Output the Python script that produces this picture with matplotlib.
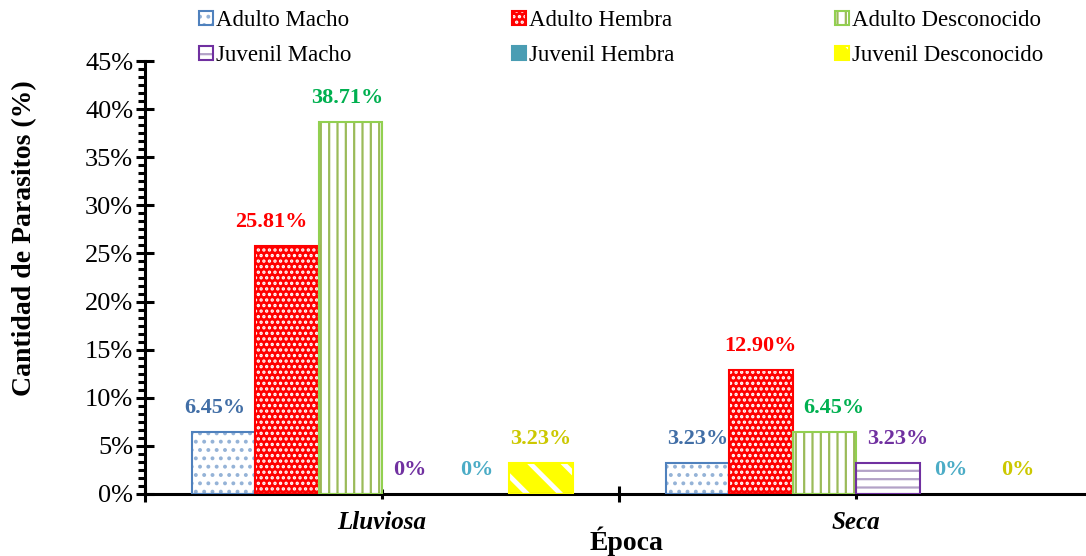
import numpy as np
import matplotlib
matplotlib.use("Agg")
import matplotlib.pyplot as plt
from matplotlib.patches import Patch
from matplotlib.ticker import MultipleLocator, AutoMinorLocator, FixedLocator

plt.rcParams['font.family'] = ['Liberation Serif', 'DejaVu Serif']
plt.rcParams['hatch.linewidth'] = 1.6

# ----- data ----- #
epocas = ['Lluviosa', 'Seca']
series = ['Adulto Macho', 'Adulto Hembra', 'Adulto Desconocido',
          'Juvenil Macho', 'Juvenil Hembra', 'Juvenil Desconocido']
adulto_macho = [6.45, 3.23]
adulto_hembra = [25.81, 12.90]
adulto_desconocido = [38.71, 6.45]
juvenil_macho = [0, 3.23]
juvenil_hembra = [0, 0]
juvenil_desconocido = [3.23, 0]
valores = [adulto_macho, adulto_hembra, adulto_desconocido,
           juvenil_macho, juvenil_hembra, juvenil_desconocido]
etiquetas = [['6.45%', '3.23%'], ['25.81%', '12.90%'], ['38.71%', '6.45%'],
             ['0%', '3.23%'], ['0%', '0%'], ['3.23%', '0%']]

# ----- styles: (face, hatch colour, hatch, outline, label colour) ----- #
estilos = [
    ('white', '#95B3D7', '..', '#4F81BD', '#416EA6'),
    ('#FF0000', 'white', '...', '#FF0000', '#FF0000'),
    ('white', '#9BBB59', '||', '#92D050', '#00B050'),
    ('white', '#B3A2C7', '--', '#7030A0', '#7030A0'),
    ('#4A9DB3', '#4A9DB3', '', '#4A9DB3', '#4BACC6'),
    ('#FFFF00', 'white', '\\', '#FFFF00', '#CCC800'),
]
label_dx = [[-6, 0], [-11, 0], [-2, 7], [-3, 7], [0, 0], [0, 2]]

fig = plt.figure(figsize=(10.86, 5.56), dpi=100)
ax = fig.add_axes([145 / 1086, 62 / 556, 941 / 1086, 433 / 556])

cat_px = 474
x = np.arange(len(epocas))
w = 63.5 / cat_px
handles = {}
for i, (nombre, vals) in enumerate(zip(series, valores)):
    face, hcol, hatch, edge, lcol = estilos[i]
    pos = x + (i - 2.5) * w
    lw = [1.5 if v > 0 else 0 for v in vals]
    bars = ax.bar(pos, vals, w, color=face, edgecolor=hcol, hatch=hatch, linewidth=0, zorder=2)
    if i == 5:
        for b in bars:
            if hasattr(b, 'set_hatch_linewidth'):
                b.set_hatch_linewidth(3.5)
    ax.bar(pos, vals, w, fill=False, edgecolor=edge, linewidth=lw, zorder=3)
    for j, v in enumerate(vals):
        ax.annotate(etiquetas[i][j], (pos[j], v), xytext=(label_dx[i][j], 17),
                    textcoords='offset points', ha='center', va='center',
                    fontsize=16, fontweight='bold', color=lcol)
    p1 = Patch(facecolor=face, edgecolor=hcol, hatch=hatch, linewidth=0)
    p2 = Patch(fill=False, edgecolor=edge, linewidth=1.5)
    handles[nombre] = (p1, p2)

ax.set_ylim(0, 45)
ax.set_xlim(-0.5, -0.5 + 941 / cat_px)
ax.yaxis.set_major_locator(MultipleLocator(5))
ax.yaxis.set_minor_locator(AutoMinorLocator(6))
ax.set_yticklabels([f'{int(t)}%' for t in ax.get_yticks()])
ax.set_xticks(x)
ax.set_xticklabels(epocas, fontsize=18, fontweight='bold', fontstyle='italic')
ax.xaxis.set_minor_locator(FixedLocator([-0.5, 0.5, 1.5]))

for s in ['top', 'right']:
    ax.spines[s].set_visible(False)
for s in ['left', 'bottom']:
    ax.spines[s].set_linewidth(2.2)

ax.tick_params(axis='y', which='major', direction='inout', length=13, width=2.2,
               labelsize=19, pad=2)
ax.tick_params(axis='y', which='minor', direction='out', length=5, width=2.2)
ax.tick_params(axis='x', which='major', direction='inout', length=7, width=2.2, pad=9)
ax.tick_params(axis='x', which='minor', direction='inout', length=11.5, width=2.2)

fig.text(25 / 1086, 1 - 238 / 556, 'Cantidad de Parasitos (%)', rotation=90,
         ha='center', va='center', fontsize=20, fontweight='bold')
fig.text(627 / 1086, 1 - 541 / 556, 'Época', ha='center', va='center',
         fontsize=20, fontweight='bold')

orden = ['Adulto Macho', 'Juvenil Macho', 'Adulto Hembra', 'Juvenil Hembra',
         'Adulto Desconocido', 'Juvenil Desconocido']
fig.legend([handles[n] for n in orden], orden, ncol=3, frameon=False,
           loc='upper left', bbox_to_anchor=(197 / 1086, 1 - 8 / 556),
           fontsize=16.5, handlelength=0.6, handleheight=0.6,
           handletextpad=0.15, columnspacing=7.0, labelspacing=0.6,
           borderpad=0.1, borderaxespad=0)

fig.savefig('out.png', dpi=100)
